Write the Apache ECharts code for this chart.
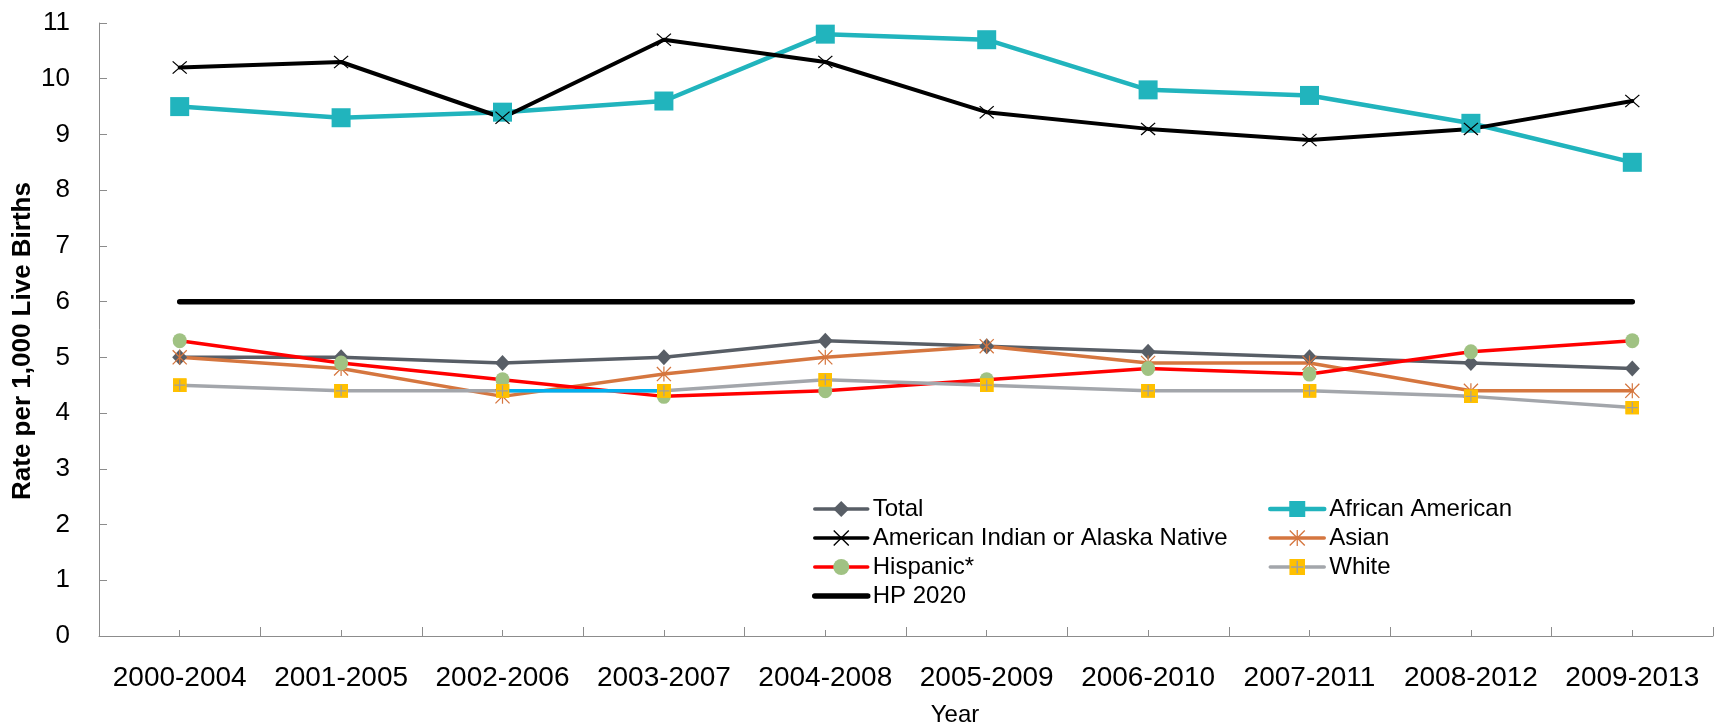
<!DOCTYPE html>
<html>
<head>
<meta charset="utf-8">
<script src="https://cdn.jsdelivr.net/npm/echarts@6/dist/echarts.min.js"></script>
<style>
html,body{margin:0;padding:0;background:#fff;}
#chart{width:1720px;height:728px;}
</style>
</head>
<body>
<div id="chart"></div>
<script>
const categories = ['2000-2004','2001-2005','2002-2006','2003-2007','2004-2008','2005-2009','2006-2010','2007-2011','2008-2012','2009-2013'];
const total = [5.0, 5.0, 4.9, 5.0, 5.3, 5.2, 5.1, 5.0, 4.9, 4.8];
const africanAmerican = [9.5, 9.3, 9.4, 9.6, 10.8, 10.7, 9.8, 9.7, 9.2, 8.5];
const americanIndian = [10.2, 10.3, 9.3, 10.7, 10.3, 9.4, 9.1, 8.9, 9.1, 9.6];
const asian = [5.0, 4.8, 4.3, 4.7, 5.0, 5.2, 4.9, 4.9, 4.4, 4.4];
const hispanic = [5.3, 4.9, 4.6, 4.3, 4.4, 4.6, 4.8, 4.7, 5.1, 5.3];
const white = [4.5, 4.4, 4.4, 4.4, 4.6, 4.5, 4.4, 4.4, 4.3, 4.1];
const hp2020 = [6, 6, 6, 6, 6, 6, 6, 6, 6, 6];
const yTicks = {min: 0, max: 11, interval: 1};
// index range of the White segment that is drawn in blue in the original
const whiteBlueFrom = 2, whiteBlueTo = 3;

const FONT = '"Liberation Sans", Arial, sans-serif';
const xPath = 'path://M0 1.2L1.2 0L20 18.8L18.8 20Z M18.8 0L20 1.2L1.2 20L0 18.8Z';
const starPath = 'path://M9.2 0H10.8V20H9.2Z M0 1.2L1.2 0L20 18.8L18.8 20Z M18.8 0L20 1.2L1.2 20L0 18.8Z';
const whiteSvg = "<svg xmlns='http://www.w3.org/2000/svg' width='28' height='28'><rect x='0' y='0' width='28' height='28' fill='#FFC000'/><path d='M14 3V25M3 14H25' stroke='#A0A0A0' stroke-width='2.5'/></svg>";
const whiteSymbol = 'image://data:image/svg+xml;charset=utf-8,' + encodeURIComponent(whiteSvg);

const chart = echarts.init(document.getElementById('chart'), null, {renderer: 'canvas'});

function lineSeries(name, data, color, width, symbol, size, symColor, z) {
  return {
    name, type: 'line', data, symbol, symbolSize: size, showSymbol: symbol !== 'none',
    z: z,
    lineStyle: {color, width, cap: 'round', join: 'round'},
    itemStyle: {color: symColor || color, borderWidth: 0},
    emphasis: {disabled: true},
    animation: false
  };
}

const whiteBlue = white.map((v, i) => (i >= whiteBlueFrom && i <= whiteBlueTo) ? v : null);

const whiteMarkers = lineSeries('White markers', white, '#A3A6AB', 0, whiteSymbol, 14, '#FFC000', 4);
whiteMarkers.lineStyle.opacity = 0;
whiteMarkers.lineStyle.width = 0;

const series = [
  lineSeries('Total', total, '#585E66', 3.5, 'diamond', [15, 16], '#585E66', 2),
  lineSeries('African American', africanAmerican, '#21B4BD', 4.5, 'rect', 19, '#21B4BD', 2),
  lineSeries('American Indian or Alaska Native', americanIndian, '#000000', 4, xPath, [15, 13], '#000000', 2),
  lineSeries('Asian', asian, '#D5763F', 3.5, starPath, [15, 15], '#D5763F', 2),
  lineSeries('Hispanic*', hispanic, '#FF0000', 3.5, 'circle', [14, 15], '#A0C283', 2),
  lineSeries('White', white, '#A3A6AB', 3.5, whiteSymbol, 14, '#FFC000', 2),
  lineSeries('White segment', whiteBlue, '#00B0F0', 3.5, 'none', 0, '#00B0F0', 3),
  whiteMarkers,
  lineSeries('HP 2020', hp2020, '#000000', 5.5, 'none', 0, '#000000', 2)
];

const legendText = {fontSize: 24, color: '#000', fontFamily: FONT, lineHeight: 24};

const option = {
  backgroundColor: '#ffffff',
  animation: false,
  textStyle: {fontFamily: FONT},
  grid: {left: 99, right: 7, top: 23, bottom: 92, containLabel: false},
  xAxis: [{
    type: 'category', data: categories, boundaryGap: true,
    axisLine: {show: true, lineStyle: {color: '#8C8C8C', width: 1}},
    axisTick: {show: true, inside: true, length: 9, lineStyle: {color: '#8C8C8C'}},
    axisLabel: {color: '#000', fontSize: 28, fontFamily: FONT, margin: 28, interval: 0},
    splitLine: {show: false}
  }, {
    type: 'category', data: categories, boundaryGap: true, position: 'bottom',
    axisLine: {show: false},
    axisTick: {show: true, inside: true, length: 6, alignWithLabel: true, lineStyle: {color: '#8C8C8C'}},
    axisLabel: {show: false},
    splitLine: {show: false}
  }],
  yAxis: {
    type: 'value', min: yTicks.min, max: yTicks.max, interval: yTicks.interval,
    axisLine: {show: true, lineStyle: {color: '#8C8C8C', width: 1}},
    axisTick: {show: true, inside: true, length: 8, lineStyle: {color: '#8C8C8C'}},
    axisLabel: {color: '#000', fontSize: 26, fontFamily: FONT, margin: 29},
    splitLine: {show: false}
  },
  legend: [{
    orient: 'vertical', left: 807, top: 492,
    data: [
      {name: 'Total', lineStyle: {width: 3.5, color: '#585E66'}},
      {name: 'American Indian or Alaska Native', lineStyle: {width: 3.5, color: '#000'}},
      {name: 'Hispanic*', lineStyle: {width: 3.5, color: '#FF0000'}},
      {name: 'HP 2020', lineStyle: {width: 5.5, color: '#000'}, itemStyle: {opacity: 0}}
    ],
    itemWidth: 53, itemHeight: 20, itemGap: 5,
    textStyle: legendText,
    selectedMode: false
  }, {
    orient: 'vertical', left: 1263, top: 492,
    data: [
      {name: 'African American', lineStyle: {width: 4.5, color: '#21B4BD'}},
      {name: 'Asian', lineStyle: {width: 3.5, color: '#D5763F'}},
      {name: 'White', lineStyle: {width: 3.5, color: '#A3A6AB'}}
    ],
    itemWidth: 54, itemHeight: 20, itemGap: 5,
    textStyle: legendText,
    selectedMode: false
  }],
  graphic: [{
    type: 'text', x: 23, y: 341, rotation: Math.PI / 2,
    style: {text: 'Rate per 1,000 Live Births', font: 'bold 26px ' + FONT, fill: '#000', align: 'center', verticalAlign: 'middle'}
  }, {
    type: 'text', x: 955, y: 715,
    style: {text: 'Year', font: '24px ' + FONT, fill: '#000', align: 'center', verticalAlign: 'middle'}
  }],
  series: series
};
chart.setOption(option);
</script>
</body>
</html>
